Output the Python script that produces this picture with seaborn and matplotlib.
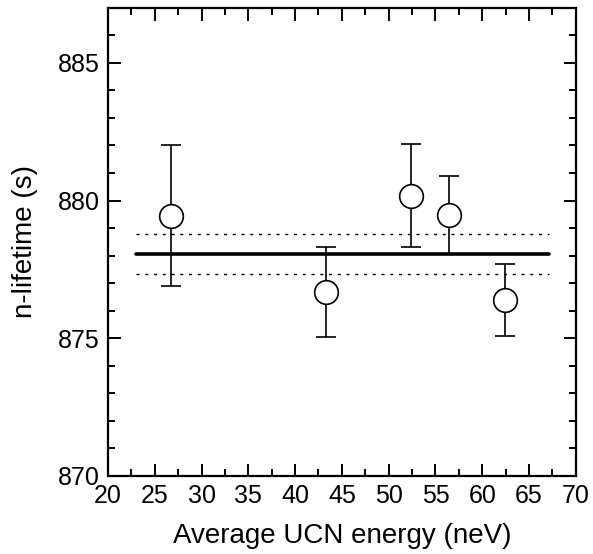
import matplotlib
matplotlib.use("Agg")
import matplotlib.pyplot as plt
import seaborn as sns
import pandas as pd
from matplotlib.ticker import MultipleLocator

energy = [26.7, 43.3, 52.4, 56.5, 62.4]
lifetime = [879.45, 876.68, 880.18, 879.46, 876.38]
err = [2.55, 1.62, 1.88, 1.42, 1.30]
mean_value = 878.05
band_upper = 878.77
band_lower = 877.32
line_span = [23.0, 67.1]
xticks = [20, 25, 30, 35, 40, 45, 50, 55, 60, 65, 70]
yticks = [870, 875, 880, 885]

sns.set_theme(style="ticks")
plt.rcParams['font.family'] = ['Liberation Sans', 'DejaVu Sans']
plt.rcParams['text.color'] = 'black'
plt.rcParams['axes.labelcolor'] = 'black'
plt.rcParams['xtick.color'] = 'black'
plt.rcParams['ytick.color'] = 'black'

df = pd.DataFrame({"energy": energy, "lifetime": lifetime, "err": err})

fig = plt.figure(figsize=(5.93, 5.54), dpi=100)
ax = fig.add_axes([0.182, 0.141, 0.789, 0.845])

sns.lineplot(x=line_span, y=[mean_value, mean_value], ax=ax, color="black", lw=2.6, zorder=2)
sns.lineplot(x=line_span, y=[band_upper, band_upper], ax=ax, color="black", lw=1.0,
             linestyle=(0, (2.2, 4.1)), zorder=2)
sns.lineplot(x=line_span, y=[band_lower, band_lower], ax=ax, color="black", lw=1.0,
             linestyle=(0, (2.2, 4.1)), zorder=2)

ax.errorbar(df["energy"], df["lifetime"], yerr=df["err"], fmt="none", ecolor="black",
            elinewidth=1.2, capsize=7.5, capthick=1.2, zorder=3)
sns.scatterplot(data=df, x="energy", y="lifetime", ax=ax, s=290, marker="o",
                facecolor="white", edgecolor="black", linewidth=1.2, zorder=4)

ax.set_xlim(20, 70)
ax.set_ylim(870, 887)
ax.set_xticks(xticks)
ax.set_yticks(yticks)
ax.xaxis.set_minor_locator(MultipleLocator(2.5))
ax.yaxis.set_minor_locator(MultipleLocator(1))
ax.tick_params(which="both", direction="in", top=True, right=True, width=1.4, color="black")
ax.tick_params(which="major", length=9, labelsize=18, pad=6)
ax.tick_params(which="minor", length=5)
for s in ax.spines.values():
    s.set_linewidth(1.6)
    s.set_color("black")

ax.set_xlabel("Average UCN energy (neV)", fontsize=20, labelpad=11)
ax.set_ylabel("n-lifetime (s)", fontsize=20, labelpad=14)

fig.savefig("out.png", dpi=100)
